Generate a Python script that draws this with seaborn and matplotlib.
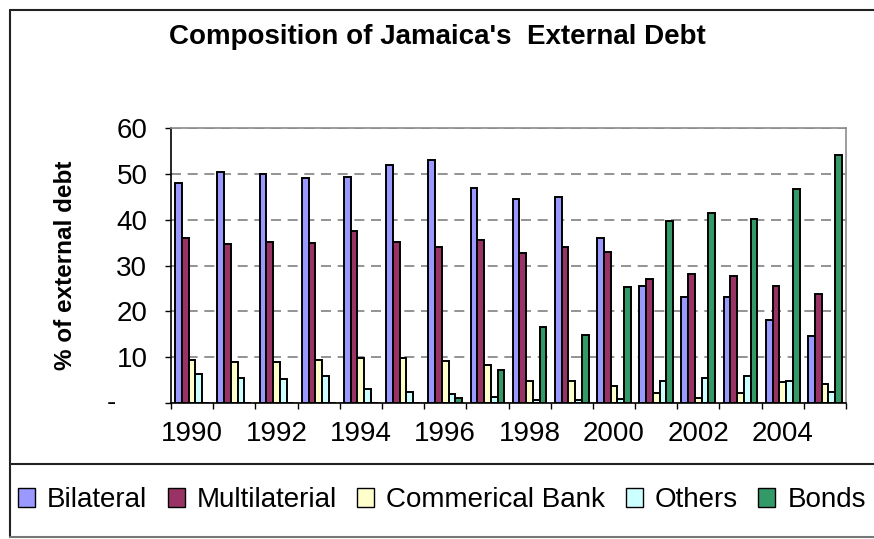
import numpy as np
import pandas as pd
import matplotlib
matplotlib.use("Agg")
import matplotlib.pyplot as plt
from matplotlib.lines import Line2D
from matplotlib.patches import Patch
import seaborn as sns

# Share of Jamaica's external debt by creditor type (% of total)
years = [str(y) for y in range(1990, 2006)]
bilateral = [48.0, 50.5, 50.0, 49.0, 49.4, 52.0, 53.0, 47.0, 44.5, 45.0, 36.0, 25.5, 23.2, 23.2, 18.2, 14.6]
multilateral = [36.0, 34.7, 35.2, 35.0, 37.5, 35.2, 34.0, 35.5, 32.8, 34.0, 33.0, 27.0, 28.2, 27.8, 25.5, 23.8]
commercial_bank = [9.4, 9.0, 9.0, 9.4, 9.9, 9.8, 9.1, 8.2, 4.9, 4.9, 3.7, 2.1, 1.0, 2.2, 4.5, 4.2]
others = [6.3, 5.5, 5.2, 5.9, 3.1, 2.3, 1.9, 1.4, 0.7, 0.7, 0.9, 4.7, 5.5, 6.0, 4.7, 2.3]
bonds = [0.0, 0.0, 0.0, 0.0, 0.0, 0.0, 1.0, 7.2, 16.5, 14.8, 25.3, 39.8, 41.5, 40.2, 46.7, 54.2]

series_names = ["Bilateral", "Multilaterial", "Commerical Bank", "Others", "Bonds"]
series_colors = ["#9999FF", "#993366", "#FFFFCC", "#CCFFFF", "#339966"]
ytick_values = [0, 10, 20, 30, 40, 50, 60]
xtick_labels = years[::2][:8]

df = pd.DataFrame({
    "Year": years,
    series_names[0]: bilateral,
    series_names[1]: multilateral,
    series_names[2]: commercial_bank,
    series_names[3]: others,
    series_names[4]: bonds,
}).melt(id_vars="Year", var_name="Series", value_name="Value")

sns.set_style("white")
plt.rcParams["font.family"] = ["Liberation Sans", "DejaVu Sans"]
plt.rcParams.update({
    "text.color": "black",
    "axes.labelcolor": "black",
    "xtick.color": "black",
    "ytick.color": "black",
})

W, H = 874, 539
fig = plt.figure(figsize=(W / 100, H / 100), dpi=100)
ax = fig.add_axes([171 / W, 1 - 403 / H, 675 / W, 275 / H])

sns.barplot(
    data=df, x="Year", y="Value", hue="Series", order=years,
    hue_order=series_names, palette=series_colors, width=0.8,
    edgecolor="black", linewidth=1.4, saturation=1, legend=False, ax=ax,
)

ax.set_xlim(-0.5, len(years) - 0.5)
ax.set_ylim(0, 60)

# dashed horizontal gridlines behind the columns
ax.set_axisbelow(True)
ax.yaxis.grid(True, linestyle=(0, (6, 4)), color="#808080", linewidth=1.2)
ax.xaxis.grid(False)

# y axis: ticks every 10, zero shown as a dash
ax.set_yticks(ytick_values)
ax.set_yticklabels([""] + [str(v) for v in ytick_values[1:]], fontsize=20)
ax.tick_params(axis="y", which="major", direction="out", length=4, width=1,
               color="black", pad=13, left=True)
ax.annotate("-", xy=(0, 0), xycoords=("axes fraction", "data"),
            xytext=(-60, 0), textcoords="offset pixels",
            ha="center", va="center", fontsize=20)

# x axis: labels every other year, tick marks between year groups
ax.set_xticks(np.arange(0, len(years), 2))
ax.set_xticklabels(xtick_labels, fontsize=20)
ax.set_xticks(np.arange(-0.5, len(years), 1), minor=True)
ax.tick_params(axis="x", which="major", length=0, pad=13)
ax.tick_params(axis="x", which="minor", direction="out", length=4.5, width=1,
               color="black", bottom=True)
ax.set_xlabel("")

ax.set_ylabel("% of external debt", fontsize=17.5, fontweight="bold", va="center")
ax.yaxis.set_label_coords((66 - 171) / 675, 0.5)

for side in ("left", "bottom"):
    ax.spines[side].set_color("black")
    ax.spines[side].set_linewidth(1.2)
for side in ("top", "right"):
    ax.spines[side].set_color("#8c8c8c")
    ax.spines[side].set_linewidth(1.2)

fig.text(0.5, 1 - 37 / H, "Composition of Jamaica's  External Debt",
         ha="center", va="center", fontsize=20, fontweight="bold")

# chart frame and legend box
frame_kw = dict(transform=fig.transFigure, color="#222222", linewidth=1.5)
fig.add_artist(Line2D([10 / W, 1.0], [1 - 10 / H] * 2, **frame_kw))
fig.add_artist(Line2D([10 / W] * 2, [1 - 10 / H, 1 - 537 / H], **frame_kw))
fig.add_artist(Line2D([10 / W, 1.0], [1 - 464 / H] * 2, **frame_kw))
fig.add_artist(Line2D([10 / W, 1.0], [1 - 537 / H] * 2, transform=fig.transFigure,
                      color="#777777", linewidth=1.5))

handles = [Patch(facecolor=c, edgecolor="black", linewidth=1.0, label=n)
           for n, c in zip(series_names, series_colors)]
fig.legend(handles=handles, loc="center left", bbox_to_anchor=(18 / W, 1 - 500 / H),
           ncol=5, frameon=False, fontsize=20, handlelength=0.61, handleheight=0.65,
           handletextpad=0.43, columnspacing=0.74, borderpad=0, borderaxespad=0)

fig.savefig("out.png", dpi=100)
